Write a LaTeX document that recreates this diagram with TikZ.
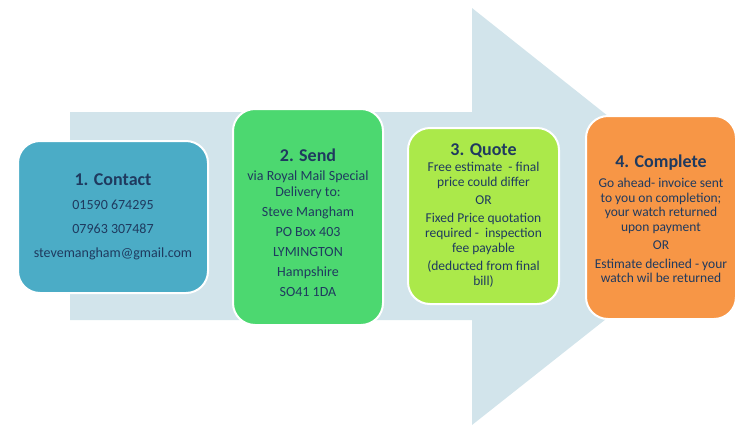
\documentclass[tikz,border=0pt]{standalone}
\usepackage{fontspec}
\setmainfont{Carlito}
\newcommand\mytitle[1]{{\fontsize{18}{20}\selectfont\bfseries #1}}
\begin{document}
\begin{tikzpicture}[x=1pt,y=-1pt,
 box/.style={draw=white,line width=2pt,rounded corners=22pt,anchor=north west,inner sep=0pt},
 txt/.style={text=navy,align=center,font=\fontsize{14}{16}\selectfont}]
\definecolor{navy}{HTML}{1F3A5F}
\definecolor{arr}{HTML}{D2E4EB}
\definecolor{c1}{HTML}{4BACC6}
\definecolor{c2}{HTML}{4CD870}
\definecolor{c3}{HTML}{ABE94A}
\definecolor{c4}{HTML}{F79646}
\useasboundingbox (0,0) rectangle (748,445);
\fill[arr] (70,112) -- (472,112) -- (472,8) -- (735,217) -- (472,425) -- (472,320) -- (70,320) -- cycle;
\node[box,fill=c1,minimum width=190pt,minimum height=152pt] (b1) at (17,140) {};
\node[box,fill=c2,minimum width=150pt,minimum height=216pt] (b2) at (232,108) {};
\node[box,fill=c3,minimum width=151pt,minimum height=176pt] (b3) at (407,127) {};
\node[box,fill=c4,minimum width=150pt,minimum height=203pt] (b4) at (585,115) {};
\node[txt] (t1) at (b1.center) {\mytitle{1. Contact}\\[8pt]01590 674295\\[8pt]07963 307487\\[8pt]stevemangham@gmail.com};
\node[txt] (t2) at ([yshift=-6pt]b2.center) {\mytitle{2. Send}\\[3pt]via Royal Mail Special\\Delivery to:\\[4pt]Steve Mangham\\[4pt]PO Box 403\\[4pt]LYMINGTON\\[4pt]Hampshire\\[4pt]SO41 1DA};
\node[txt,font=\fontsize{13.5}{15}\selectfont] (t3) at (b3.center) {\mytitle{3. Quote}\\[1pt]Free estimate\ \ - final\\price could differ\\[3pt]OR\\[3pt]Fixed Price quotation\\required -\ \ inspection\\fee payable\\[3pt](deducted from final\\bill)};
\node[txt,font=\fontsize{13.5}{14.5}\selectfont] (t4) at ([yshift=-1pt]b4.center) {\mytitle{4. Complete}\\[6pt]Go ahead- invoice sent\\to you on completion;\\your watch returned\\upon payment\\[4pt]OR\\[4pt]Estimate declined - your\\watch wil be returned};
\end{tikzpicture}
\end{document}
